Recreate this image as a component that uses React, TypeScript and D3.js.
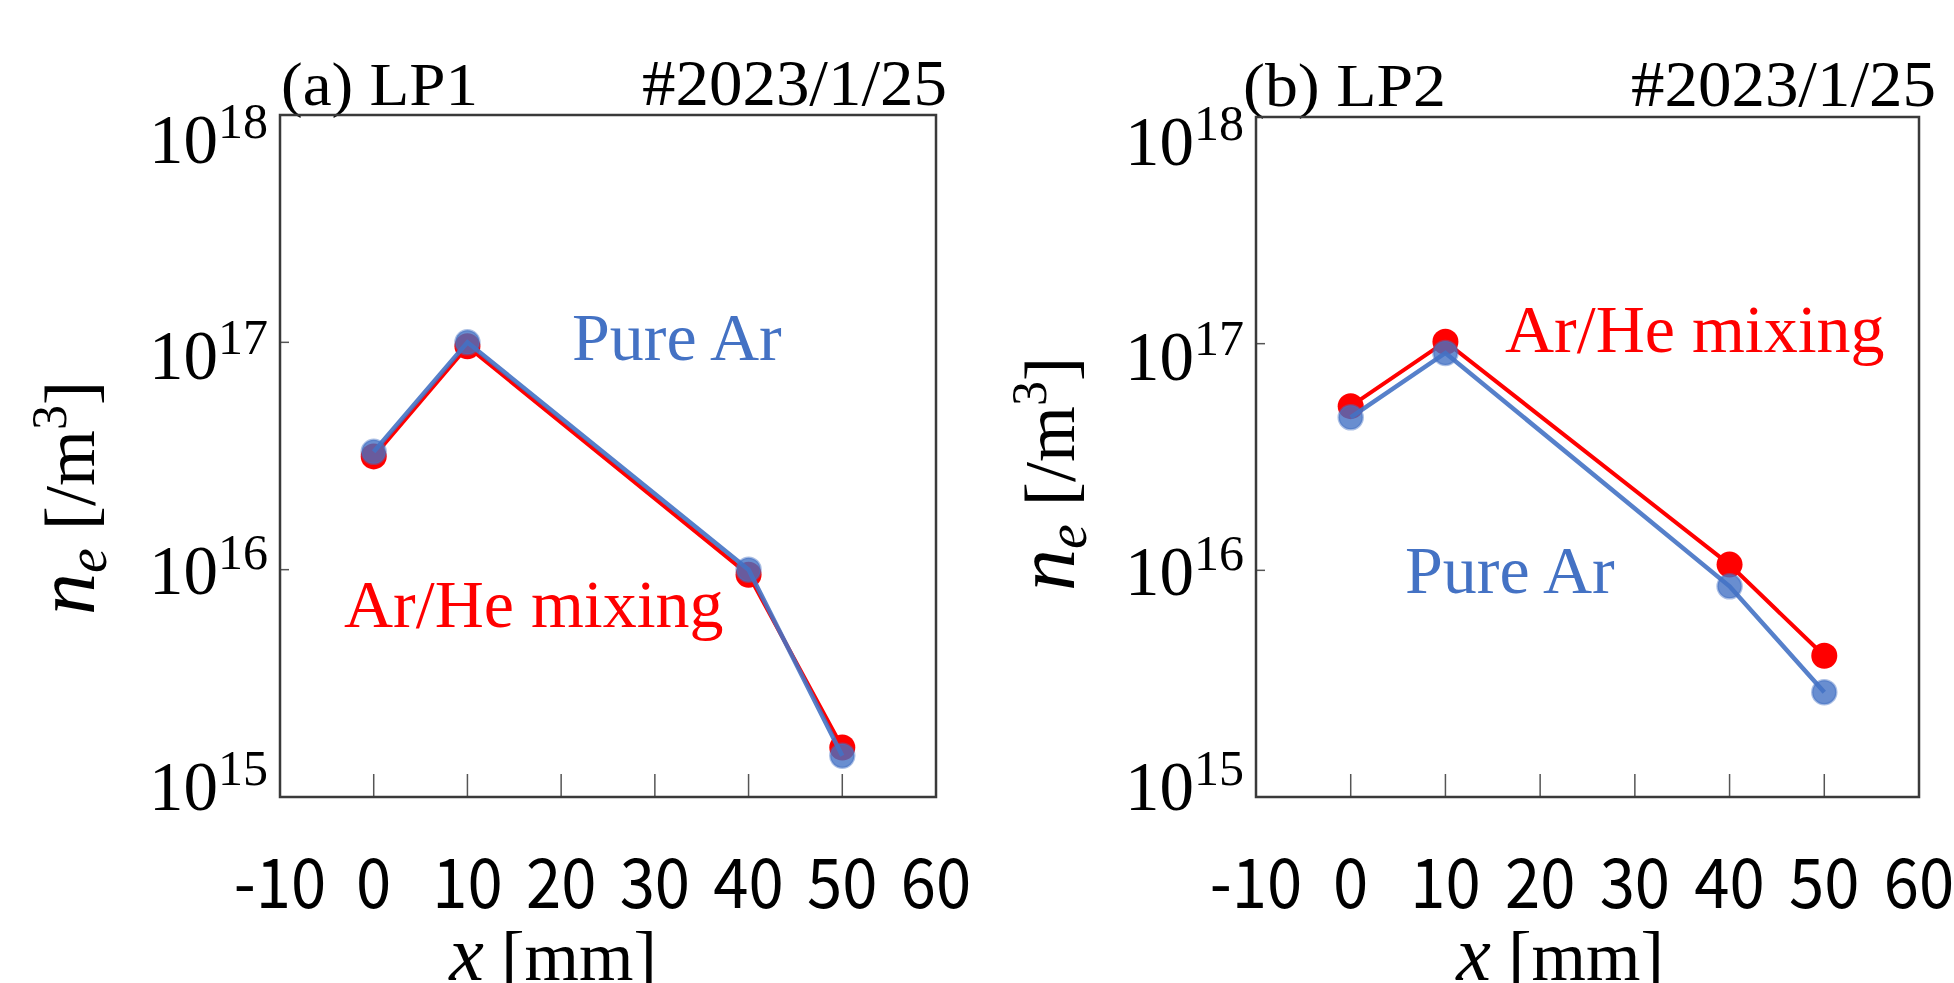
import React from "react";
import * as d3 from "d3";

// ---- data ----
const xPositions = [0, 10, 40, 50];
const lp1ArHe = [3.15e16, 9.6e16, 9.5e15, 1.65e15];
const lp1PureAr = [3.3e16, 1.0e17, 1.0e16, 1.52e15];
const lp2ArHe = [5.3e16, 1.02e17, 1.06e16, 4.2e15];
const lp2PureAr = [4.73e16, 9.1e16, 8.5e15, 2.9e15];
const xTicks = [-10, 0, 10, 20, 30, 40, 50, 60];
const yTicks = [1e15, 1e16, 1e17, 1e18];
const panelTitles = ["(a) LP1", "(b) LP2"];
const shotLabel = "#2023/1/25";
const seriesNames = ["Ar/He mixing", "Pure Ar"];

const RED = "#FF0000";
const BLUE = "#4472C4";
const SERIF = "'Liberation Serif', 'Times New Roman', serif";
const SANS = "'Noto Sans CJK JP', 'Noto Sans', sans-serif";

const layouts = [
  {
    L: 280, R: 936, T: 115, B: 797,
    titleX: 281, titleW: 197, dateEnd: 947, titleY: 105,
    pure: [572, 360], mix: [344, 627],
    yLabX: 94, yLabY: 498, xLabX: 553,
    arhe: lp1ArHe, pureAr: lp1PureAr, title: panelTitles[0],
  },
  {
    L: 1256, R: 1919, T: 117, B: 797,
    titleX: 1243, titleW: 203, dateEnd: 1936, titleY: 106,
    pure: [1405, 593], mix: [1505, 352],
    yLabX: 1074, yLabY: 474, xLabX: 1560,
    arhe: lp2ArHe, pureAr: lp2PureAr, title: panelTitles[1],
  },
];

function Panel({ cfg }: { cfg: any }) {
  const { L, R, T, B } = cfg;
  const x = d3.scaleLinear().domain([-10, 60]).range([L, R]);
  const y = d3.scaleLog().domain([1e15, 1e18]).range([B, T]);
  const yLab = d3.scaleLog().domain([1e15, 1e18]).range([B + 13, T + 48]);
  const line = d3
    .line<number>()
    .x((_, i) => x(xPositions[i]))
    .y((d) => y(d));

  return (
    <g>
      {/* titles */}
      <text
        x={cfg.titleX}
        y={cfg.titleY}
        fontFamily={SERIF}
        fontSize={62}
        fill="#000"
        textLength={cfg.titleW}
        lengthAdjust="spacingAndGlyphs"
      >
        {cfg.title}
      </text>
      <text
        x={cfg.dateEnd - 305}
        y={cfg.titleY}
        fontFamily={SERIF}
        fontSize={65}
        fill="#000"
        textLength={305}
        lengthAdjust="spacingAndGlyphs"
      >
        {shotLabel}
      </text>

      {/* ticks */}
      {xTicks.map((t) => (
        <line key={"xt" + t} x1={x(t)} x2={x(t)} y1={B} y2={B - 23} stroke="#555" strokeWidth={1.5} />
      ))}
      {yTicks.map((t) => (
        <line key={"yt" + t} x1={L} x2={L + 9} y1={y(t)} y2={y(t)} stroke="#555" strokeWidth={1.5} />
      ))}

      {/* box */}
      <rect x={L} y={T} width={R - L} height={B - T} fill="none" stroke="#3a3a3a" strokeWidth={2.5} />

      {/* x tick labels */}
      {xTicks.map((t) => (
        <text
          key={"xl" + t}
          transform={`translate(${x(t)},908) scale(0.92,1)`}
          textAnchor="middle"
          fontFamily={SANS}
          fontSize={69}
          fill="#000"
        >
          {String(t)}
        </text>
      ))}

      {/* y tick labels */}
      {yTicks.map((t) => (
        <text key={"yl" + t} x={L - 12} y={yLab(t)} textAnchor="end" fontFamily={SERIF} fontSize={69} fill="#000">
          <tspan>10</tspan>
          <tspan fontSize={50} dy={-25}>{String(Math.round(Math.log10(t)))}</tspan>
        </text>
      ))}

      {/* y axis label */}
      <text
        transform={`translate(${cfg.yLabX},${cfg.yLabY}) rotate(-90)`}
        textAnchor="middle"
        fontFamily={SERIF}
        fontSize={72}
        fill="#000"
      >
        <tspan fontStyle="italic" fontSize={84}>n</tspan>
        <tspan fontStyle="italic" fontSize={56} dy={12}>e</tspan>
        <tspan dy={-12}> [/m</tspan>
        <tspan fontSize={50} dy={-28}>3</tspan>
        <tspan dy={28}>]</tspan>
      </text>

      {/* x axis label */}
      <text x={cfg.xLabX} y={980} textAnchor="middle" fontFamily={SERIF} fontSize={70} fill="#000">
        <tspan fontStyle="italic" fontSize={78}>x</tspan>
        <tspan> [mm]</tspan>
      </text>

      {/* series: Ar/He mixing (red) */}
      <path d={line(cfg.arhe) || ""} fill="none" stroke={RED} strokeWidth={4} />
      {cfg.arhe.map((v: number, i: number) => (
        <circle key={"r" + i} cx={x(xPositions[i])} cy={y(v)} r={13} fill={RED} />
      ))}

      {/* series: Pure Ar (blue) */}
      <path d={line(cfg.pureAr) || ""} fill="none" stroke={BLUE} strokeWidth={4.5} strokeOpacity={0.9} />
      {cfg.pureAr.map((v: number, i: number) => (
        <circle
          key={"b" + i}
          cx={x(xPositions[i])}
          cy={y(v)}
          r={12}
          fill={BLUE}
          fillOpacity={0.8}
          stroke={BLUE}
          strokeOpacity={0.45}
          strokeWidth={2.5}
        />
      ))}

      {/* annotations */}
      <text x={cfg.pure[0]} y={cfg.pure[1]} fontFamily={SERIF} fontSize={68} fill={BLUE}>
        {seriesNames[1]}
      </text>
      <text x={cfg.mix[0]} y={cfg.mix[1]} fontFamily={SERIF} fontSize={68} fill={RED}>
        {seriesNames[0]}
      </text>
    </g>
  );
}

export default function App() {
  return (
    <svg
      width={1954}
      height={983}
      viewBox="0 0 1954 983"
      style={{ position: "absolute", left: 0, top: 0, background: "#fff" }}
    >
      <rect x={0} y={0} width={1954} height={983} fill="#fff" />
      {layouts.map((cfg, i) => (
        <Panel key={i} cfg={cfg} />
      ))}
    </svg>
  );
}
